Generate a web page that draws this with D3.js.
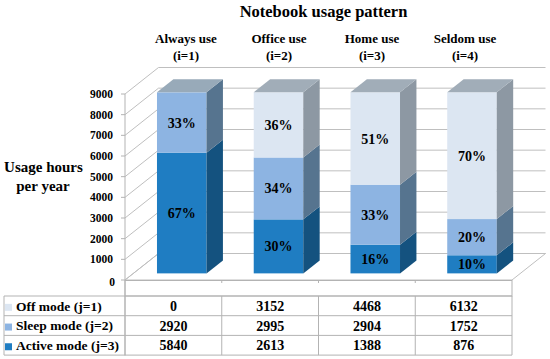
<!DOCTYPE html>
<html>
<head>
<meta charset="utf-8">
<script src="https://cdn.jsdelivr.net/npm/d3@7"></script>
<style>
  body { margin: 0; background: #fff; }
  svg { display: block; }
</style>
</head>
<body>
<script>
// Notebook usage pattern: 3D stacked columns with data table

const categories = ["Always use", "Office use", "Home use", "Seldom use"];
const categoryIndex = ["(i=1)", "(i=2)", "(i=3)", "(i=4)"];
const modeLabels = ["Off mode (j=1)", "Sleep mode (j=2)", "Active mode (j=3)"];
const offHours = [0, 3152, 4468, 6132];
const sleepHours = [2920, 2995, 2904, 1752];
const activeHours = [5840, 2613, 1388, 876];
const yTicks = [0, 1000, 2000, 3000, 4000, 5000, 6000, 7000, 8000, 9000];

const W = 550, H = 359;
const svg = d3.select("body").append("svg")
    .attr("width", W)
    .attr("height", H)
    .attr("font-family", "Liberation Serif")
    .attr("font-weight", "bold")
    .attr("fill", "#000");

// oblique projection: z = 0 front of floor, z = 1 back wall
const depthX = 33.5, depthY = 26.5;
const floorLeft = 125, floorRight = 512, floorFront = 280;

const y = d3.scaleLinear().domain([0, 9000]).range([floorFront, 94]);
const x = d3.scaleBand()
    .domain(categories)
    .range([floorLeft, floorRight])
    .paddingInner(0.488)
    .paddingOuter(0.244);

const px = (xv, z) => xv + z * depthX;
const py = (v, z) => y(v) - z * depthY;

const gridColor = "#bfbfbf";
const lineColor = "#b3b3b3";

// floor
svg.append("path")
    .attr("d", `M${floorLeft},${floorFront} L${floorRight},${floorFront} L${floorRight + depthX},${floorFront - depthY} L${floorLeft + depthX},${floorFront - depthY} Z`)
    .attr("fill", "#fff")
    .attr("stroke", gridColor)
    .attr("stroke-width", 1);

// gridlines on side wall + back wall
svg.append("g").selectAll("path")
    .data(yTicks)
    .join("path")
    .attr("d", d => `M${floorLeft},${y(d)} L${floorLeft + depthX},${y(d) - depthY} L${floorRight + depthX},${y(d) - depthY}`)
    .attr("fill", "none")
    .attr("stroke", gridColor)
    .attr("stroke-width", 1);

// value axis
svg.append("line")
    .attr("x1", floorLeft).attr("x2", floorLeft)
    .attr("y1", y(9000)).attr("y2", 355.5)
    .attr("stroke", lineColor);

svg.append("g").selectAll("line")
    .data(yTicks)
    .join("line")
    .attr("x1", floorLeft - 4).attr("x2", floorLeft)
    .attr("y1", d => y(d)).attr("y2", d => y(d))
    .attr("stroke", lineColor);

svg.append("g").selectAll("text")
    .data(yTicks)
    .join("text")
    .attr("x", d => d === 0 ? 115 : 113)
    .attr("y", d => d === 0 ? y(d) + 2 : y(d))
    .attr("dy", "0.35em")
    .attr("text-anchor", "end")
    .attr("font-size", "11.5px")
    .text(d => d);

// bars
const modes = [
    { key: "active", values: activeHours, front: "#1f7dc2", side: "#14527f", top: "#5a7fa0" },
    { key: "sleep", values: sleepHours, front: "#8db4e2", side: "#56748f", top: "#98aab9" },
    { key: "off", values: offHours, front: "#dce6f2", side: "#8d98a3", top: "#a1adb8" }
];

const z0 = 0.25, z1 = 0.74;
const bw = x.bandwidth();

categories.forEach((cat, i) => {
    const total = activeHours[i] + sleepHours[i] + offHours[i];
    let base = 0;
    const segs = [];
    modes.forEach(m => {
        const v = m.values[i];
        if (v > 0) segs.push({ mode: m, v0: base, v1: base + v, v: v });
        base += v;
    });
    const g = svg.append("g");
    const xl = x(cat), xr = x(cat) + bw;

    segs.forEach((s, k) => {
        g.append("rect")
            .attr("x", px(xl, z0))
            .attr("y", py(s.v1, z0))
            .attr("width", bw)
            .attr("height", py(s.v0, z0) - py(s.v1, z0))
            .attr("fill", s.mode.front);

        g.append("path")
            .attr("d", `M${px(xr, z0)},${py(s.v0, z0)} L${px(xr, z1)},${py(s.v0, z1)} L${px(xr, z1)},${py(s.v1, z1)} L${px(xr, z0)},${py(s.v1, z0)} Z`)
            .attr("fill", s.mode.side);

        if (k === segs.length - 1) {
            g.append("path")
                .attr("d", `M${px(xl, z0)},${py(s.v1, z0)} L${px(xr, z0)},${py(s.v1, z0)} L${px(xr, z1)},${py(s.v1, z1)} L${px(xl, z1)},${py(s.v1, z1)} Z`)
                .attr("fill", s.mode.top);
        }

        g.append("text")
            .attr("x", px(xl, z0) + bw / 2)
            .attr("y", (py(s.v0, z0) + py(s.v1, z0)) / 2)
            .attr("dy", "0.36em")
            .attr("text-anchor", "middle")
            .attr("font-size", "14px")
            .text(Math.round(s.v / total * 100) + "%");
    });
});

// title and category headers
svg.append("text")
    .attr("x", 323.5)
    .attr("y", 17)
    .attr("text-anchor", "middle")
    .attr("font-size", "16.5px")
    .text("Notebook usage pattern");

const headerX = d3.scalePoint().domain(categories).range([186, 465]);

svg.append("g").selectAll("text")
    .data(categories)
    .join("text")
    .attr("x", d => headerX(d))
    .attr("y", 43)
    .attr("text-anchor", "middle")
    .attr("font-size", "13px")
    .text(d => d);

svg.append("g").selectAll("text")
    .data(categories)
    .join("text")
    .attr("x", d => headerX(d))
    .attr("y", 60)
    .attr("text-anchor", "middle")
    .attr("font-size", "13px")
    .text((d, i) => categoryIndex[i]);

// y axis title
svg.append("text")
    .attr("x", 43.5)
    .attr("y", 172)
    .attr("text-anchor", "middle")
    .attr("font-size", "15px")
    .text("Usage hours");

svg.append("text")
    .attr("x", 43)
    .attr("y", 191)
    .attr("text-anchor", "middle")
    .attr("font-size", "15px")
    .text("per year");

// data table
const tableX = d3.scaleBand().domain(categories).range([floorLeft, floorRight]);
const rowTop = 296, rowH = 19.7, tableLeft = 4;
const rowValues = [offHours, sleepHours, activeHours];
const rowColors = [modes[2].front, modes[1].front, modes[0].front];

const table = svg.append("g")
    .attr("stroke", lineColor)
    .attr("fill", "none");

// header strip under the floor
table.append("rect")
    .attr("x", floorLeft).attr("y", floorFront + 0.5)
    .attr("width", floorRight - floorLeft)
    .attr("height", rowTop - floorFront - 0.5);

table.selectAll(".cat-tick")
    .data(categories.slice(1))
    .join("line")
    .attr("class", "cat-tick")
    .attr("x1", d => tableX(d)).attr("x2", d => tableX(d))
    .attr("y1", floorFront).attr("y2", floorFront + 3);

d3.range(4).forEach(r => {
    table.append("line")
        .attr("x1", tableLeft).attr("x2", floorRight)
        .attr("y1", rowTop + r * rowH).attr("y2", rowTop + r * rowH);
});

[tableLeft, floorLeft].concat(categories.slice(1).map(d => tableX(d)), [floorRight]).forEach(xv => {
    table.append("line")
        .attr("x1", xv).attr("x2", xv)
        .attr("y1", rowTop).attr("y2", rowTop + 3 * rowH);
});

modeLabels.forEach((lab, r) => {
    const cy = rowTop + r * rowH + rowH / 2;
    svg.append("rect")
        .attr("x", 5).attr("y", cy - 2)
        .attr("width", 7).attr("height", 7)
        .attr("fill", rowColors[r]);

    svg.append("text")
        .attr("x", 16)
        .attr("y", cy)
        .attr("dy", "0.36em")
        .attr("font-size", "13.5px")
        .text(lab);

    svg.append("g").selectAll("text")
        .data(categories)
        .join("text")
        .attr("x", d => tableX(d) + tableX.bandwidth() / 2)
        .attr("y", cy)
        .attr("dy", "0.36em")
        .attr("text-anchor", "middle")
        .attr("font-size", "14px")
        .text((d, i) => rowValues[r][i]);
});
</script>
</body>
</html>
